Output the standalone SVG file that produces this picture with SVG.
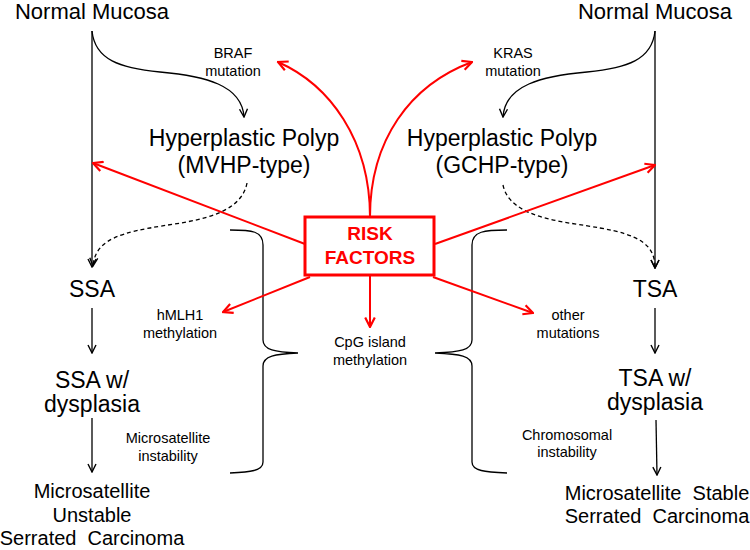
<svg xmlns="http://www.w3.org/2000/svg" width="750" height="550" viewBox="0 0 750 550">
<defs>
<style>
text{font-family:"Liberation Sans",Arial,sans-serif;fill:#000;text-anchor:middle}
.big{font-size:23px}
.mid{font-size:20px}
.sm{font-size:14.5px}
.rf{font-size:19px;font-weight:bold;fill:#f00}
.blk{fill:none;stroke:#000;stroke-width:1.3}
.dash{stroke-dasharray:4,3}
.red{fill:none;stroke:#f00;stroke-width:2}
</style>
<marker id="ab" viewBox="0 0 10 10" refX="9" refY="5" markerWidth="10" markerHeight="10" markerUnits="userSpaceOnUse" orient="auto">
<path d="M1,1 L9,5 L1,9" fill="none" stroke="#000" stroke-width="1.4"/>
</marker>
<marker id="ar" viewBox="0 0 10 10" refX="9" refY="5" markerWidth="12" markerHeight="12" markerUnits="userSpaceOnUse" orient="auto">
<path d="M1,1 L9,5 L1,9" fill="none" stroke="#f00" stroke-width="1.8"/>
</marker>
</defs>
<rect width="750" height="550" fill="#fff"/>
<g id="connectors">
<path class="blk" d="M92,31 L92,267" marker-end="url(#ab)"/>
<path class="blk" d="M92,31 C95,60 120,68 160,72 C205,76 242,85 244,117" marker-end="url(#ab)"/>
<path class="blk dash" d="M247,183 C240,220 180,222 150,228 C110,235 95,245 93,266" marker-end="url(#ab)"/>
<path class="blk" d="M92,308 L92,353" marker-end="url(#ab)"/>
<path class="blk" d="M92,418 L92,472" marker-end="url(#ab)"/>
<path class="blk" d="M655,31 L655,268" marker-end="url(#ab)"/>
<path class="blk" d="M655,31 C652,60 627,68 587,72 C542,76 505,85 503,117" marker-end="url(#ab)"/>
<path class="blk dash" d="M503,185 C510,220 570,222 600,228 C640,235 655,245 655,268" marker-end="url(#ab)"/>
<path class="blk" d="M655,308 L655,353" marker-end="url(#ab)"/>
<path class="blk" d="M656,420 L657,475" marker-end="url(#ab)"/>
<path class="blk" d="M230,230 C252,230 263,231 263,245 L263,340 C263,350 275,352 298,353 C275,354 263,356 263,366 L263,462 C263,471 250,472 230,473"/>
<path class="blk" d="M507,230 C485,230 472,231 472,245 L472,340 C472,350 460,352 435,353 C460,354 472,356 472,366 L472,462 C472,471 485,472 507,473"/>
<path class="red" d="M370,217 C370,140 330,85 278,62" marker-end="url(#ar)"/>
<path class="red" d="M370,217 C370,140 410,85 472,62" marker-end="url(#ar)"/>
<path class="red" d="M305,244 L93,163" marker-end="url(#ar)"/>
<path class="red" d="M435,244 L655,165" marker-end="url(#ar)"/>
<path class="red" d="M310,277 L223,312" marker-end="url(#ar)"/>
<path class="red" d="M433,277 L533,313" marker-end="url(#ar)"/>
<path class="red" d="M370,276 L370,327" marker-end="url(#ar)"/>
</g>
<g id="normal-left"><text class="big" x="92" y="19" style="font-size:22px">Normal Mucosa</text></g>
<g id="normal-right"><text class="big" x="655" y="19" style="font-size:22px">Normal Mucosa</text></g>
<g id="braf"><text class="sm" x="233" y="58">BRAF</text><text class="sm" x="233" y="76">mutation</text></g>
<g id="kras"><text class="sm" x="513" y="58">KRAS</text><text class="sm" x="513" y="76">mutation</text></g>
<g id="hp-left"><text class="big" x="244" y="146">Hyperplastic Polyp</text><text class="big" x="244" y="173">(MVHP-type)</text></g>
<g id="hp-right"><text class="big" x="502" y="146">Hyperplastic Polyp</text><text class="big" x="502" y="173">(GCHP-type)</text></g>
<g id="risk">
<rect x="305" y="217" width="129" height="58" fill="#fff" stroke="#f00" stroke-width="3"/>
<text class="rf" x="370" y="240">RISK</text>
<text class="rf" x="370" y="264">FACTORS</text>
</g>
<g id="ssa"><text class="big" x="92" y="297">SSA</text></g>
<g id="tsa"><text class="big" x="655" y="297">TSA</text></g>
<g id="hmlh1"><text class="sm" x="180" y="320">hMLH1</text><text class="sm" x="180" y="338">methylation</text></g>
<g id="cpg"><text class="sm" x="370" y="347">CpG island</text><text class="sm" x="370" y="365">methylation</text></g>
<g id="other"><text class="sm" x="568" y="320">other</text><text class="sm" x="568" y="338">mutations</text></g>
<g id="ssa-dys"><text class="big" x="92" y="388">SSA w/</text><text class="big" x="92" y="412">dysplasia</text></g>
<g id="tsa-dys"><text class="big" x="655" y="386">TSA w/</text><text class="big" x="655" y="410">dysplasia</text></g>
<g id="msi"><text class="sm" x="168" y="443">Microsatellite</text><text class="sm" x="168" y="461">instability</text></g>
<g id="cin"><text class="sm" x="567" y="440">Chromosomal</text><text class="sm" x="567" y="457">instability</text></g>
<g id="msi-carc"><text class="mid" x="92" y="498">Microsatellite</text><text class="mid" x="92" y="522">Unstable</text><text class="mid" x="92" y="545" xml:space="preserve">Serrated  Carcinoma</text></g>
<g id="mss-carc"><text class="mid" x="657" y="500" xml:space="preserve">Microsatellite  Stable</text><text class="mid" x="657" y="523" xml:space="preserve">Serrated  Carcinoma</text></g>
</svg>
